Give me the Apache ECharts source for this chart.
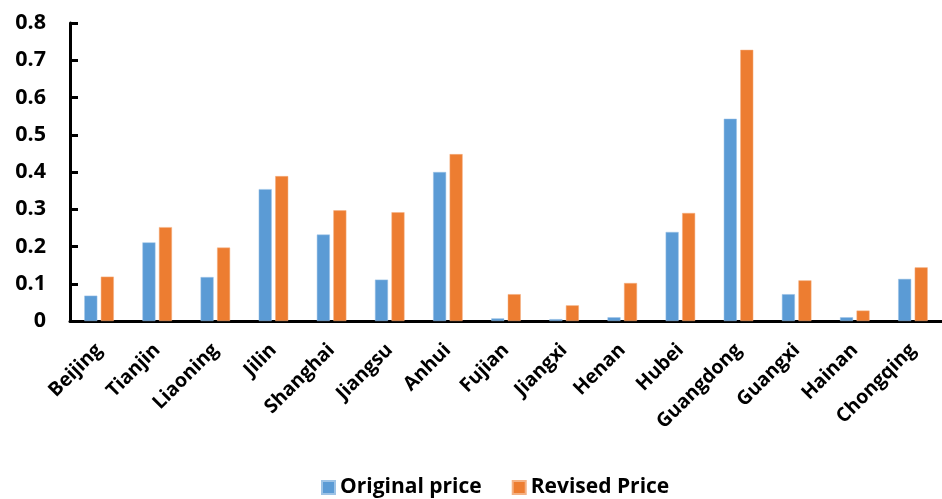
<!DOCTYPE html>
<html>
<head>
<meta charset="utf-8">
<script src="https://cdn.jsdelivr.net/npm/echarts@6/dist/echarts.min.js"></script>
<style>html,body{margin:0;padding:0;background:#fff}#c{width:942px;height:499px}</style>
</head>
<body>
<div id="c"></div>
<script>
const categories = ["Beijing","Tianjin","Liaoning","Jilin","Shanghai","Jiangsu","Anhui","Fujian","Jiangxi","Henan","Hubei","Guangdong","Guangxi","Hainan","Chongqing"];
const originalPrice = [0.068,0.211,0.118,0.354,0.232,0.111,0.400,0.007,0.005,0.010,0.239,0.543,0.072,0.010,0.113];
const revisedPrice = [0.119,0.252,0.197,0.389,0.297,0.292,0.448,0.072,0.042,0.102,0.290,0.728,0.109,0.028,0.144];
const seriesNames = ["Original price","Revised Price"];

const font = "'Open Sans', 'DejaVu Sans', sans-serif";
const chart = echarts.init(document.getElementById('c'), null, {renderer:'canvas'});
chart.setOption({
  animation: false,
  backgroundColor: '#ffffff',
  grid: {left: 70, right: 0, top: 23, bottom: 178, containLabel: false},
  legend: {
    left: 316, top: 472,
    itemWidth: 13, itemHeight: 13, itemGap: 30,
    icon: 'rect',
    textStyle: {fontFamily: font, fontWeight: 'bold', fontSize: 21, color: '#000'},
    data: seriesNames
  },
  xAxis: {
    type: 'category',
    data: categories,
    axisLine: {lineStyle: {color: '#000', width: 3}},
    axisTick: {show: false},
    axisLabel: {
      rotate: 45, margin: 26, interval: 0, padding: [13, 0, 0, 0],
      fontFamily: font, fontWeight: 'bold', fontSize: 19.5, color: '#000'
    }
  },
  yAxis: {
    type: 'value',
    min: 0, max: 0.8, interval: 0.1,
    splitLine: {show: false},
    axisLine: {show: true, lineStyle: {color: '#000', width: 3}},
    axisTick: {show: true, inside: true, length: 8, lineStyle: {color: '#000', width: 3}},
    axisLabel: {
      margin: 24,
      fontFamily: font, fontWeight: 'bold', fontSize: 21.5, color: '#000'
    }
  },
  series: [
    {name: seriesNames[0], type: 'bar', data: originalPrice, barWidth: 13, barGap: '27%',
     itemStyle: {color: '#5B9BD5', borderColor: '#9DC3E6', borderWidth: 0.5}},
    {name: seriesNames[1], type: 'bar', data: revisedPrice, barWidth: 13, barGap: '27%',
     itemStyle: {color: '#ED7D31', borderColor: '#F4B183', borderWidth: 0.5}}
  ]
});
</script>
</body>
</html>
